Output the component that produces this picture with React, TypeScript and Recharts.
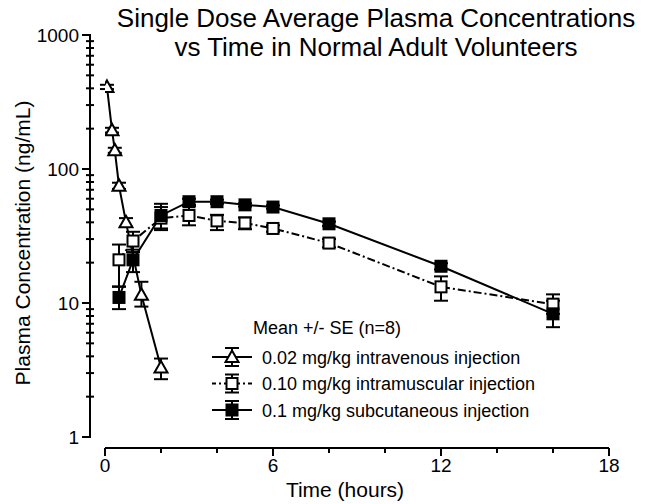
import React from 'react';
import { LineChart, Line, XAxis, YAxis, ErrorBar, Legend, Label } from 'recharts';

const FONT = '"Liberation Sans", Arial, Helvetica, sans-serif';

// 0.02 mg/kg intravenous injection
const ivTime = [0.07, 0.25, 0.35, 0.5, 0.75, 1.3, 2];
const ivConc = [410, 195, 138, 75, 40, 11.5, 3.3];
const ivErr = [[15, 15], [8, 8], [6, 6], [4, 4], [3, 3], [2.1, 2.9], [0.6, 0.55]];

// 0.10 mg/kg intramuscular injection
const imTime = [0.5, 1, 2, 3, 4, 5, 6, 8, 12, 16];
const imConc = [21, 29, 43, 45, 41, 39.5, 36, 28, 13.2, 9.8];
const imErr = [[7.8, 6.3], [5, 5], [8, 9], [7, 8], [6, 4.5], [4, 4], [2, 2], [2, 2], [2.8, 2.6], [1.5, 1.8]];

// 0.1 mg/kg subcutaneous injection
const scTime = [0.5, 1, 2, 3, 4, 5, 6, 8, 12, 16];
const scConc = [11, 21, 45, 57, 57, 54, 52, 39, 18.8, 8.3];
const scErr = [[2, 2.3], [4, 4], [9, 10], [3, 3], [2, 2], [1.5, 1.5], [1.5, 1.5], [1.5, 1.5], [1, 1], [1.7, 2.1]];

const seriesNames = [
  '0.02 mg/kg intravenous injection',
  '0.10 mg/kg intramuscular injection',
  '0.1 mg/kg subcutaneous injection',
];

const xTicks = [0, 2, 4, 6, 8, 10, 12, 14, 16, 18];
const xLabelTicks = [0, 6, 12, 18];
const yDecades = [1, 10, 100];
const yMantissas = [1, 2, 3, 4, 5, 6, 7, 8, 9];
const yLabelTicks = [1, 10, 100, 1000];
const yTicks = [...yDecades.flatMap((d) => yMantissas.map((m) => d * m)), 1000];

const toRows = (t: number[], c: number[], e: number[][]) =>
  t.map((tt, i) => ({ t: tt, c: c[i], e: e[i] }));

const ivData = toRows(ivTime, ivConc, ivErr);
const imData = toRows(imTime, imConc, imErr);
const scData = toRows(scTime, scConc, scErr);

const triangle = (cx: number, cy: number, key?: any) => (
  <path
    key={key}
    d={`M${cx},${cy - 6.5} L${cx + 6.5},${cy + 5} L${cx - 6.5},${cy + 5} Z`}
    fill="#fff"
    stroke="#000"
    strokeWidth={2}
  />
);

const square = (cx: number, cy: number, filled: boolean, key?: any) => (
  <rect
    key={key}
    x={cx - 5.5}
    y={cy - 5.5}
    width={11}
    height={11}
    fill={filled ? '#000' : '#fff'}
    stroke="#000"
    strokeWidth={2}
  />
);

const triDot = (p: any) => (p.cx == null ? <g key={p.index} /> : triangle(p.cx, p.cy, p.index));
const openDot = (p: any) => (p.cx == null ? <g key={p.index} /> : square(p.cx, p.cy, false, p.index));
const fillDot = (p: any) => (p.cx == null ? <g key={p.index} /> : square(p.cx, p.cy, true, p.index));

const XTick = (p: any) => {
  const v = p.payload.value;
  const major = xLabelTicks.includes(v);
  const y0 = p.y + 11;
  return (
    <g>
      <line x1={p.x} x2={p.x} y1={y0} y2={y0 + (major ? 8 : 5)} stroke="#000" strokeWidth={2} />
      {major && (
        <text x={p.x} y={y0 + 24} textAnchor="middle" fontSize={19} fontFamily={FONT} fill="#000">
          {v}
        </text>
      )}
    </g>
  );
};

const YTick = (p: any) => {
  const v = p.payload.value;
  const major = yLabelTicks.includes(v);
  const ax = p.x - 15;
  return (
    <g>
      <line
        x1={major ? ax - 8 : ax - 4}
        x2={major ? ax + 1 : ax + 4}
        y1={p.y}
        y2={p.y}
        stroke="#000"
        strokeWidth={2}
      />
      {major && (
        <text x={ax - 11} y={p.y} dy="0.35em" textAnchor="end" fontSize={19} fontFamily={FONT} fill="#000">
          {v}
        </text>
      )}
    </g>
  );
};

const legendSymbol = (i: number, cy: number) => {
  const cx = 32;
  return (
    <g key={i}>
      <line
        x1={12}
        x2={52}
        y1={cy}
        y2={cy}
        stroke="#000"
        strokeWidth={2}
        strokeDasharray={i === 1 ? '4 3 2 3' : undefined}
      />
      <line x1={cx} x2={cx} y1={cy - 9} y2={cy + 9} stroke="#000" strokeWidth={2} />
      <line x1={cx - 7} x2={cx + 7} y1={cy - 9} y2={cy - 9} stroke="#000" strokeWidth={2} />
      <line x1={cx - 7} x2={cx + 7} y1={cy + 9} y2={cy + 9} stroke="#000" strokeWidth={2} />
      {i === 0 && triangle(cx, cy)}
      {i === 1 && square(cx, cy, false)}
      {i === 2 && square(cx, cy, true)}
    </g>
  );
};

const LegendBox = () => (
  <svg width={440} height={115} style={{ display: 'block' }}>
    <text x={53} y={24} fontSize={18} fontFamily={FONT} fill="#000">
      Mean +/- SE (n=8)
    </text>
    {seriesNames.map((name, i) => {
      const cy = 47 + i * 26.5;
      return (
        <g key={name}>
          {legendSymbol(i, cy)}
          <text x={62} y={cy + 6.5} fontSize={18} fontFamily={FONT} fill="#000">
            {name}
          </text>
        </g>
      );
    })}
  </svg>
);

export default function App() {
  return (
    <div style={{ position: 'absolute', left: 0, top: 0, width: 652, height: 504, background: '#fff' }}>
      <svg
        width={652}
        height={62}
        style={{ position: 'absolute', left: 0, top: 0, pointerEvents: 'none' }}
      >
        <text x={376} y={26.5} textAnchor="middle" fontSize={26} fontFamily={FONT} fill="#000">
          Single Dose Average Plasma Concentrations
        </text>
        <text x={376} y={56} textAnchor="middle" fontSize={26} fontFamily={FONT} fill="#000">
          vs Time in Normal Adult Volunteers
        </text>
      </svg>
      <LineChart width={652} height={504} margin={{ top: 35, right: 43, bottom: 0, left: 0 }}>
        <XAxis
          type="number"
          dataKey="t"
          domain={[0, 18]}
          ticks={xTicks}
          interval={0}
          height={67}
          tickSize={0}
          tickMargin={0}
          tickLine={false}
          tick={(p: any) => <XTick {...p} />}
          axisLine={{ stroke: '#000', strokeWidth: 2, transform: 'translate(0 11)' }}
          allowDataOverflow
        >
          <Label
            content={() => (
              <text x={345} y={497} textAnchor="middle" fontSize={21} fontFamily={FONT} fill="#000">
                Time (hours)
              </text>
            )}
          />
        </XAxis>
        <YAxis
          type="number"
          scale="log"
          domain={[1, 1000]}
          ticks={yTicks}
          interval={0}
          width={105}
          tickSize={0}
          tickMargin={0}
          tickLine={false}
          tick={(p: any) => <YTick {...p} />}
          axisLine={{ stroke: '#000', strokeWidth: 2, transform: 'translate(-15 0)' }}
          allowDataOverflow
        >
          <Label
            content={() => (
              <text
                x={30}
                y={243}
                transform="rotate(-90 30 243)"
                textAnchor="middle"
                fontSize={21}
                fontFamily={FONT}
                fill="#000"
              >
                Plasma Concentration (ng/mL)
              </text>
            )}
          />
        </YAxis>
        <Line
          data={ivData}
          dataKey="c"
          name={seriesNames[0]}
          stroke="#000"
          strokeWidth={2}
          dot={triDot}
          activeDot={false}
          isAnimationActive={false}
        >
          <ErrorBar dataKey="e" width={7} stroke="#000" strokeWidth={2} direction="y" isAnimationActive={false} />
        </Line>
        <Line
          data={imData}
          dataKey="c"
          name={seriesNames[1]}
          stroke="#000"
          strokeWidth={2}
          strokeDasharray="8 3 2 3"
          dot={openDot}
          activeDot={false}
          isAnimationActive={false}
        >
          <ErrorBar dataKey="e" width={7} stroke="#000" strokeWidth={2} direction="y" isAnimationActive={false} />
        </Line>
        <Line
          data={scData}
          dataKey="c"
          name={seriesNames[2]}
          stroke="#000"
          strokeWidth={2}
          dot={fillDot}
          activeDot={false}
          isAnimationActive={false}
        >
          <ErrorBar dataKey="e" width={7} stroke="#000" strokeWidth={2} direction="y" isAnimationActive={false} />
        </Line>
        <Legend
          layout="vertical"
          verticalAlign="middle"
          align="center"
          content={() => <LegendBox />}
          wrapperStyle={{ left: 200, top: 310, width: 440, height: 115 }}
        />
      </LineChart>
    </div>
  );
}
